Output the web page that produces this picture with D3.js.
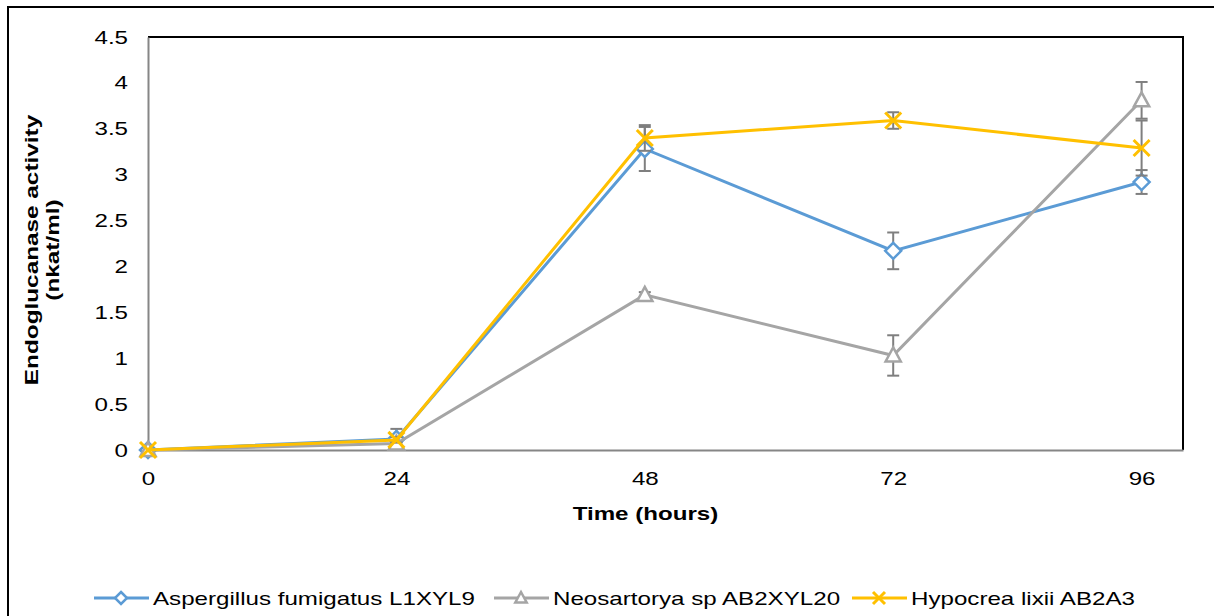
<!DOCTYPE html>
<html>
<head>
<meta charset="utf-8">
<script src="https://cdn.jsdelivr.net/npm/d3@7"></script>
<style>
  body { margin: 0; background: #fff; }
  svg { font-family: "Liberation Sans", Arial, sans-serif; }
</style>
</head>
<body>
<svg id="chart" width="1214" height="616"></svg>
<script>
// data
const hours = [0, 24, 48, 72, 96];
const yTicks = [0, 0.5, 1, 1.5, 2, 2.5, 3, 3.5, 4, 4.5];
const seriesNames = ["Aspergillus fumigatus L1XYL9", "Neosartorya sp AB2XYL20", "Hypocrea lixii AB2A3"];
const aspergillus = [0, 0.12, 3.28, 2.17, 2.92];
const aspergillusErr = [0, 0.11, 0.24, 0.2, 0.13];
const neosartorya = [0, 0.07, 1.69, 1.03, 3.81];
const neosartoryaErr = [0, 0.02, 0.03, 0.22, 0.2];
const hypocrea = [0, 0.11, 3.4, 3.59, 3.29];
const hypocreaErr = [0, 0.03, 0.14, 0.09, 0.3];

const colors = ["#5b9bd5", "#a5a5a5", "#ffc000"];
const markers = ["diamond", "triangle", "cross"];

// the reference text is drawn wide, so stretch each label along its baseline
const STRETCH = 1.27;
function stretch(sel, k) {
  sel.each(function () {
    const w = this.getComputedTextLength();
    d3.select(this).attr("textLength", w * k).attr("lengthAdjust", "spacingAndGlyphs");
  });
}

const svg = d3.select("#chart");

// outer frame
svg.append("path")
  .attr("d", "M8,616 L8,7 L1214,7")
  .attr("fill", "none")
  .attr("stroke", "#000")
  .attr("stroke-width", 2);

const plotL = 148, plotR = 1183, plotT = 37, plotB = 450;
const x = d3.scaleLinear().domain([0, 100]).range([plotL, plotR]);
const y = d3.scaleLinear().domain([0, 4.5]).range([plotB, plotT]);

// plot box: black top/right, grey axes
svg.append("path")
  .attr("d", `M${plotL},${plotT} L${plotR},${plotT} L${plotR},${plotB}`)
  .attr("fill", "none").attr("stroke", "#000").attr("stroke-width", 2);

const yAxis = svg.append("g")
  .attr("transform", `translate(${plotL},0)`)
  .call(d3.axisLeft(y).tickValues(yTicks).tickSize(0).tickPadding(20).tickFormat(d3.format("")));
const xAxis = svg.append("g")
  .attr("transform", `translate(0,${plotB})`)
  .call(d3.axisBottom(x).tickValues(hours).tickSize(0).tickPadding(22));
[yAxis, xAxis].forEach(a => {
  a.select(".domain").attr("stroke", "#868686").attr("stroke-width", 2);
  a.selectAll("text").attr("font-size", 19).attr("fill", "#000")
    .attr("font-family", "Liberation Sans, Arial, sans-serif")
    .call(stretch, STRETCH);
});

// axis titles
svg.append("text")
  .attr("x", (plotL + plotR) / 2 - 20).attr("y", 520)
  .attr("text-anchor", "middle").attr("font-size", 19).attr("font-weight", "bold")
  .text("Time (hours)")
  .call(stretch, STRETCH);
const yl = svg.append("g").attr("transform", "translate(38,250) rotate(-90)");
yl.append("text").attr("x", 0).attr("y", 0)
  .attr("text-anchor", "middle").attr("font-size", 19).attr("font-weight", "bold")
  .text("Endoglucanase activity").call(stretch, 1.28);
yl.append("text").attr("x", 0).attr("y", 21)
  .attr("text-anchor", "middle").attr("font-size", 19).attr("font-weight", "bold")
  .text("(nkat/ml)").call(stretch, 1.28);

function drawMarker(g, kind, color, cx, cy, r) {
  if (kind === "diamond") {
    g.append("path")
      .attr("d", `M${cx},${cy - r} L${cx + r},${cy} L${cx},${cy + r} L${cx - r},${cy} Z`)
      .attr("fill", "#fff").attr("stroke", color).attr("stroke-width", 2.5);
  } else if (kind === "triangle") {
    g.append("path")
      .attr("d", `M${cx},${cy - r} L${cx + r * 0.95},${cy + r * 0.75} L${cx - r * 0.95},${cy + r * 0.75} Z`)
      .attr("fill", "#fff").attr("stroke", color).attr("stroke-width", 2.5);
  } else {
    g.append("path")
      .attr("d", `M${cx - r},${cy - r} L${cx + r},${cy + r} M${cx - r},${cy + r} L${cx + r},${cy - r}`)
      .attr("stroke", color).attr("stroke-width", 3);
  }
}

const allSeries = [
  { values: aspergillus, err: aspergillusErr },
  { values: neosartorya, err: neosartoryaErr },
  { values: hypocrea, err: hypocreaErr }
];

const line = d3.line().x((d, i) => x(hours[i])).y(d => y(d));

allSeries.forEach((s, k) => {
  const g = svg.append("g");
  // error bars
  s.values.forEach((v, i) => {
    if (!s.err[i]) return;
    const cx = x(hours[i]);
    const y1 = y(v + s.err[i]), y2 = y(v - s.err[i]);
    g.append("line").attr("x1", cx).attr("x2", cx).attr("y1", y1).attr("y2", y2)
      .attr("stroke", "#7f7f7f").attr("stroke-width", 2);
    [y1, y2].forEach(yy => g.append("line")
      .attr("x1", cx - 6).attr("x2", cx + 6).attr("y1", yy).attr("y2", yy)
      .attr("stroke", "#7f7f7f").attr("stroke-width", 2));
  });
  g.append("path").datum(s.values).attr("d", line)
    .attr("fill", "none").attr("stroke", colors[k]).attr("stroke-width", 3);
  s.values.forEach((v, i) => drawMarker(g, markers[k], colors[k], x(hours[i]), y(v), 8));
});

// legend
const legendX = [94, 494, 852];
const legendY = 598;
seriesNames.forEach((name, k) => {
  const g = svg.append("g");
  const lx = legendX[k];
  g.append("line").attr("x1", lx).attr("x2", lx + 55).attr("y1", legendY).attr("y2", legendY)
    .attr("stroke", colors[k]).attr("stroke-width", 3);
  drawMarker(g, markers[k], colors[k], lx + 27, legendY, 6);
  g.append("text").attr("x", lx + 59).attr("y", legendY + 7)
    .attr("font-size", 19).attr("fill", "#000").text(name)
    .call(stretch, STRETCH);
});
</script>
</body>
</html>
